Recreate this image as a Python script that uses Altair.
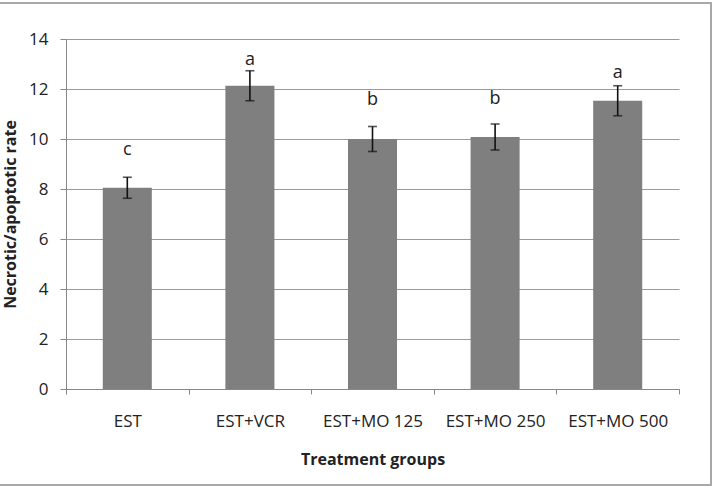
import altair as alt
import pandas as pd

groups = ["EST", "EST+VCR", "EST+MO 125", "EST+MO 250", "EST+MO 500"]
means = [8.05, 12.13, 10.0, 10.08, 11.53]
errors = [0.42, 0.6, 0.5, 0.52, 0.6]
letters = ["c", "a", "b", "b", "a"]
letter_heights = [9.56, 13.16, 11.56, 11.6, 12.65]

df = pd.DataFrame({
    "group": groups,
    "mean": means,
    "lo": [m - e for m, e in zip(means, errors)],
    "hi": [m + e for m, e in zip(means, errors)],
    "letter": letters,
    "ly": letter_heights,
})

FONT = "Open Sans"
FS = 17
W, H = 613, 350

x_enc = alt.X(
    "group:N",
    sort=groups,
    scale=alt.Scale(paddingInner=0, paddingOuter=0),
    axis=alt.Axis(
        title="Treatment groups",
        labelAngle=0,
        tickBand="extent",
        tickSize=5,
        tickColor="#888888",
        domainColor="#888888",
        labelFont=FONT,
        labelFontSize=FS,
        labelColor="#222222",
        labelPadding=19,
        titleFont=FONT,
        titleFontSize=16,
        titleFontWeight="bold",
        titleColor="#222222",
        titlePadding=22,
        grid=False,
    ),
)

y_scale = alt.Scale(domain=[0, 14], nice=False)

bars = alt.Chart(df).mark_bar(color="#7f7f7f", width=alt.RelativeBandSize(0.4)).encode(
    x=x_enc,
    y=alt.Y(
        "mean:Q",
        scale=y_scale,
        axis=alt.Axis(
            title="Necrotic/apoptotic rate",
            values=[0, 2, 4, 6, 8, 10, 12, 14],
            tickSize=6,
            tickColor="#888888",
            domainColor="#888888",
            gridColor="#9a9a9a",
            gridWidth=1.2,
            labelFont=FONT,
            labelFontSize=FS,
            labelColor="#222222",
            labelPadding=12,
            titleFont=FONT,
            titleFontSize=16,
            titleFontWeight="bold",
            titleColor="#222222",
            titlePadding=10,
        ),
    ),
)

err = alt.Chart(df).mark_rule(color="#111111", strokeWidth=1.6).encode(
    x=alt.X("group:N", sort=groups),
    y=alt.Y("lo:Q", scale=y_scale),
    y2="hi:Q",
)
cap_hi = alt.Chart(df).mark_tick(color="#111111", size=9, thickness=1.6).encode(
    x=alt.X("group:N", sort=groups),
    y=alt.Y("hi:Q", scale=y_scale),
)
cap_lo = alt.Chart(df).mark_tick(color="#111111", size=9, thickness=1.6).encode(
    x=alt.X("group:N", sort=groups),
    y=alt.Y("lo:Q", scale=y_scale),
)
labels = alt.Chart(df).mark_text(font=FONT, fontSize=18, color="#222222", baseline="middle").encode(
    x=alt.X("group:N", sort=groups),
    y=alt.Y("ly:Q", scale=y_scale),
    text="letter:N",
)

frame = alt.Chart(df).mark_rect(fill=None, stroke="#a8a8a8", strokeWidth=1.5).encode(
    x=alt.value(-70), x2=alt.value(645), y=alt.value(-36), y2=alt.value(96 + 350)
)

chart = alt.layer(bars, err, cap_hi, cap_lo, labels, frame).properties(
    width=W,
    height=H,
    autosize=alt.AutoSizeParams(type="none"),
    padding={"left": 66, "top": 39, "right": 39, "bottom": 99},
    background="white",
).configure_view(stroke=None)

chart.save("out.html", embed_options={"renderer": "svg", "actions": False})
